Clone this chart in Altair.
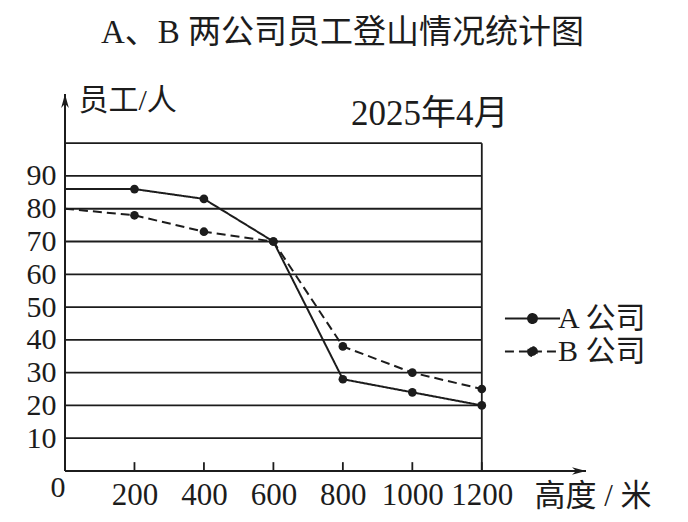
import altair as alt
import pandas as pd

# ---- data ----
heights = [0, 200, 400, 600, 800, 1000, 1200]
a_values = [86, 86, 83, 70, 28, 24, 20]
b_values = [80, 78, 73, 70, 38, 30, 25]
companies = ["A 公司", "B 公司"]
grid_values = [10, 20, 30, 40, 50, 60, 70, 80, 90, 100]
y_tick_labels = [10, 20, 30, 40, 50, 60, 70, 80, 90]
x_tick_labels = [200, 400, 600, 800, 1000, 1200]
title_text = "A、B 两公司员工登山情况统计图"
date_text = "2025年4月"
y_title = "员工/人"
x_title = "高度 / 米"

df = pd.DataFrame({
    "height": heights * 2,
    "value": a_values + b_values,
    "company": [companies[0]] * len(heights) + [companies[1]] * len(heights),
})
grid_df = pd.DataFrame({"v": grid_values})
tick_df = pd.DataFrame({"h": x_tick_labels})
one = pd.DataFrame({"k": [0]})

FONT = "Liberation Serif, Noto Sans CJK SC"
INK = "#1c1c1c"

X_MAX, Y_MAX, X_END, Y_TOP = 1500, 115, 1200, 100

xs = alt.Scale(domain=[0, X_MAX], nice=False, zero=True)
ys = alt.Scale(domain=[0, Y_MAX], nice=False, zero=True)

LEGEND_PATH = "M-1.67,0H1.67M0,-0.27A0.27,0.27,0,1,1,0,0.27A0.27,0.27,0,1,1,0,-0.27Z"

x_axis = alt.Axis(
    values=x_tick_labels, format="d", grid=False, domain=False, ticks=False,
    labelFont=FONT, labelFontSize=31, labelColor=INK, labelPadding=9,
    labelFlush=False, labelOverlap=False,
    title=x_title, titleFont=FONT, titleFontSize=31, titleFontWeight="normal",
    titleColor=INK, titleX=469, titleY=25, titleAlign="left", titleBaseline="middle",
)
y_axis = alt.Axis(
    values=y_tick_labels, format="d", grid=False, domain=False, ticks=False,
    labelFont=FONT, labelFontSize=30, labelColor=INK, labelPadding=9,
    labelFlush=False, labelOverlap=False,
    title=y_title, titleFont=FONT, titleFontSize=30, titleFontWeight="normal",
    titleColor=INK, titleAngle=0, titleX=13, titleY=6, titleAlign="left",
    titleBaseline="middle",
)


def X(f):
    return alt.X(f, type="quantitative", scale=xs, axis=x_axis)


def Y(f):
    return alt.Y(f, type="quantitative", scale=ys, axis=y_axis)


grid = alt.Chart(grid_df).transform_calculate(
    x0="0", x1=str(X_END)
).mark_rule(color=INK, strokeWidth=1.8).encode(
    y=Y("v"), x=X("x0"), x2="x1:Q"
)

frame = alt.Chart(one).transform_calculate(
    x0="0", xe=str(X_END), xm=str(X_MAX), y0="0", yt=str(Y_TOP), ym=str(Y_MAX)
)

right_border = frame.mark_rule(color=INK, strokeWidth=1.8).encode(
    x=X("xe"), y=Y("y0"), y2="yt:Q"
)
x_axis_line = frame.mark_rule(color=INK, strokeWidth=2).encode(
    x=X("x0"), x2="xm:Q", y=Y("y0")
)
y_axis_line = frame.mark_rule(color=INK, strokeWidth=2).encode(
    x=X("x0"), y=Y("y0"), y2="ym:Q"
)
x_arrow = frame.mark_point(
    shape="M0,0L-2,-0.55L-1.4,0L-2,0.55Z", size=196, filled=True, color=INK, opacity=1
).encode(x=X("xm"), y=Y("y0"))
y_arrow = frame.mark_point(
    shape="M0,0L-0.55,2L0,1.4L0.55,2Z", size=196, filled=True, color=INK, opacity=1
).encode(x=X("x0"), y=Y("ym"))

ticks = alt.Chart(tick_df).transform_calculate(
    y0="0", y1="2.7"
).mark_rule(color=INK, strokeWidth=1.8).encode(
    x=X("h"), y=Y("y0"), y2="y1:Q"
)

lines = alt.Chart(df).mark_line(strokeWidth=2, color=INK).encode(
    x=X("height"),
    y=Y("value"),
    strokeDash=alt.StrokeDash(
        "company:N",
        scale=alt.Scale(domain=companies, range=[[1, 0], [9, 5]]),
        legend=alt.Legend(
            orient="none", legendX=450, legendY=207, title=None,
            symbolType=LEGEND_PATH, symbolSize=1089, symbolStrokeWidth=2,
            symbolStrokeColor=INK, symbolFillColor=INK, symbolOpacity=1,
            labelFont=FONT, labelFontSize=30, labelColor=INK, labelOffset=8,
        ),
    ),
)

points = alt.Chart(df).transform_filter("datum.height > 0").mark_circle(
    size=75, color=INK, opacity=1
).encode(x=X("height"), y=Y("value"))

date_label = alt.Chart(one).transform_calculate(
    px="1050", py="109"
).mark_text(text=date_text, font=FONT, fontSize=35, color=INK).encode(
    x=X("px"), y=Y("py")
)

zero_label = frame.mark_text(
    text="0", font=FONT, fontSize=30, color=INK, dx=-7, dy=17
).encode(x=X("x0"), y=Y("y0"))

chart = alt.layer(
    grid, right_border, ticks, x_axis_line, y_axis_line, x_arrow, y_arrow,
    lines, points, date_label, zero_label,
).properties(
    width=521, height=377,
    autosize="none",
    padding={"left": 57, "top": 86, "right": 92, "bottom": 45},
    title=alt.TitleParams(
        title_text, font=FONT, fontSize=33, fontWeight="normal", color=INK,
        anchor="middle", frame="group", dx=17, offset=35,
    ),
    background="white",
).configure_view(stroke="transparent").configure_legend(
    rowPadding=0, padding=0
)

chart.save("out.html", embed_options={"renderer": "svg", "actions": False})
